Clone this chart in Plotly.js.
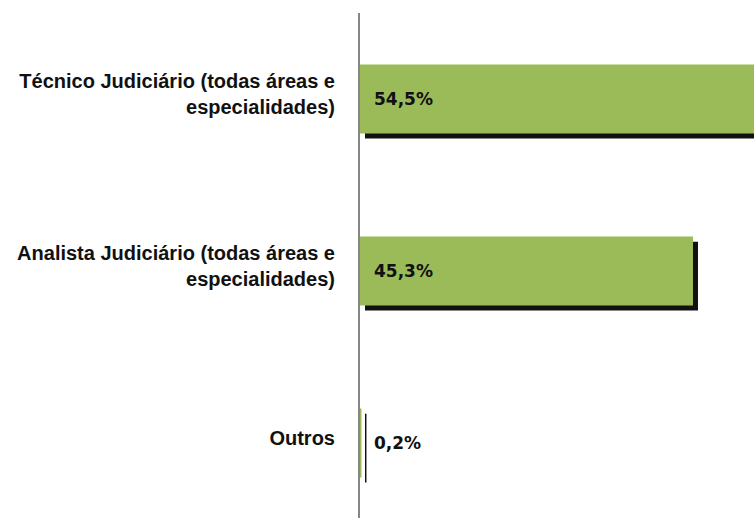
<!DOCTYPE html>
<html>
<head>
<meta charset="utf-8">
<script src="https://cdn.plot.ly/plotly-3.0.1.min.js"></script>
<style>html,body{margin:0;padding:0;background:#fff;}#chart{width:754px;height:518px;}</style>
</head>
<body>
<div id="chart"></div>
<script>
const categories = [
  "Técnico Judiciário (todas áreas e<br>especialidades)",
  "Analista Judiciário (todas áreas e<br>especialidades)",
  "Outros"
];
const values = [54.5, 45.3, 0.2];
const valueLabels = ["54,5%", "45,3%", "0,2%"];

const idx = categories.map((c, i) => i);
const shadowShiftX = 0.68;
const labelShift = -0.027;

const shadow = {
  type: 'bar', orientation: 'h',
  y: idx, x: values, base: shadowShiftX,
  width: 0.4, offset: -0.17,
  marker: { color: '#111111', line: { width: 0 } },
  hoverinfo: 'skip', showlegend: false
};
const main = {
  type: 'bar', orientation: 'h',
  y: idx, x: values,
  width: 0.4, offset: -0.2,
  marker: { color: '#9BBB59', line: { width: 0 } },
  showlegend: false
};

const annotations = values.map((v, i) => ({
  x: 0, y: i, xref: 'x', yref: 'y',
  text: valueLabels[i], showarrow: false,
  xanchor: 'left', yanchor: 'middle', xshift: 12,
  font: { family: 'DejaVu Sans', size: 17, color: '#111111', weight: 'bold' }
}));

const layout = {
  width: 754, height: 518,
  margin: { l: 360, r: 0, t: 13, b: 0, pad: 0 },
  paper_bgcolor: '#ffffff', plot_bgcolor: '#ffffff',
  showlegend: false,
  barmode: 'overlay',
  xaxis: {
    range: [0, 53.6], showgrid: false, zeroline: false,
    showticklabels: false, ticks: '', showline: false, fixedrange: true
  },
  yaxis: {
    range: [2.436, -0.5],
    tickmode: 'array', tickvals: idx.map(i => i + labelShift), ticktext: categories,
    showgrid: false, zeroline: false, ticks: '',
    showline: true, linecolor: '#868686', linewidth: 2,
    ticklabelstandoff: 19,
    tickfont: { family: 'Liberation Sans', size: 20, color: '#111111', weight: 'bold' }
  },
  annotations: annotations
};

Plotly.newPlot('chart', [shadow, main], layout, { displayModeBar: false, staticPlot: true });
</script>
</body>
</html>
